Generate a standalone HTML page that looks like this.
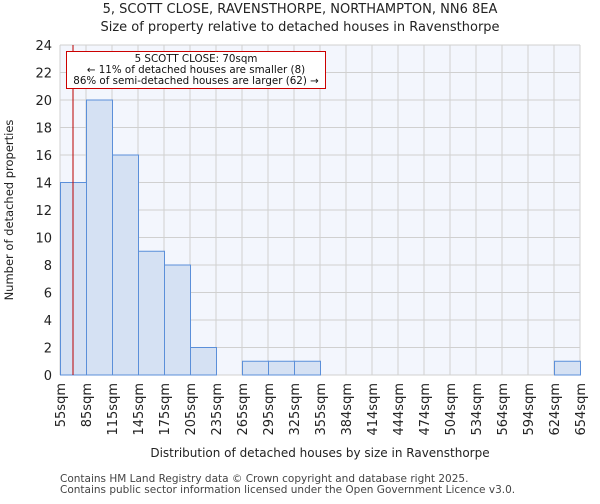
<!DOCTYPE html>
<html><head><meta charset="utf-8"><style>
body{margin:0;background:#fff;font-family:"DejaVu Sans","Liberation Sans",sans-serif;}
</style></head><body>
<svg width="600" height="500" xmlns="http://www.w3.org/2000/svg" font-family="DejaVu Sans, Liberation Sans, sans-serif">
<text x="300" y="13" text-anchor="middle" font-size="13" fill="#222">5, SCOTT CLOSE, RAVENSTHORPE, NORTHAMPTON, NN6 8EA</text>
<text x="300" y="31" text-anchor="middle" font-size="13" fill="#222">Size of property relative to detached houses in Ravensthorpe</text>
<rect x="60" y="45" width="520" height="330" fill="#f3f6fd"/>
<g id="grid"></g><g id="bars"></g><g id="axes"></g>
<line x1="73" y1="45" x2="73" y2="375" stroke="#b00" stroke-width="1"/>
<rect x="66.5" y="51.5" width="259" height="37" fill="#fff" stroke="#c00" stroke-width="1"/>
<text x="196" y="62" text-anchor="middle" font-size="10.3" fill="#111">5 SCOTT CLOSE: 70sqm</text>
<text x="196" y="73" text-anchor="middle" font-size="10.3" fill="#111">← 11% of detached houses are smaller (8)</text>
<text x="196" y="84" text-anchor="middle" font-size="10.3" fill="#111">86% of semi-detached houses are larger (62) →</text>
<text x="13" y="210" transform="rotate(-90 13 210)" text-anchor="middle" font-size="11.5" fill="#222">Number of detached properties</text>
<text x="320" y="457" text-anchor="middle" font-size="12" fill="#222">Distribution of detached houses by size in Ravensthorpe</text>
<text x="60" y="482" font-size="10.5" fill="#444">Contains HM Land Registry data © Crown copyright and database right 2025.</text>
<text x="60" y="493" font-size="10.5" fill="#444">Contains public sector information licensed under the Open Government Licence v3.0.</text>
</svg>
<script>
const tickLabels=["55sqm","85sqm","115sqm","145sqm","175sqm","205sqm","235sqm","265sqm","295sqm","325sqm","355sqm","384sqm","414sqm","444sqm","474sqm","504sqm","534sqm","564sqm","594sqm","624sqm","654sqm"];
const counts=[14,20,16,9,8,2,0,1,1,1,0,0,0,0,0,0,0,0,0,1];
const yTicks=[0,2,4,6,8,10,12,14,16,18,20,22,24];
const NS="http://www.w3.org/2000/svg";
const X0=60,X1=580,Y0=375,Y1=45,YMAX=24;
const bw=(X1-X0)/counts.length;
const xs=i=>X0+i*bw;
const ys=v=>Y0-(v/YMAX)*(Y0-Y1);
function mk(t,a,p){const e=document.createElementNS(NS,t);for(const k in a)e.setAttribute(k,a[k]);p.appendChild(e);return e;}
const grid=document.getElementById('grid'),bars=document.getElementById('bars'),axes=document.getElementById('axes');
yTicks.forEach(v=>{
const l=mk('line',{x1:X0,x2:X1,y1:ys(v),y2:ys(v),stroke:'#d0d0d0','stroke-width':1},grid);


const t=mk('text',{x:X0-8,y:ys(v)+5,'text-anchor':'end','font-size':13,fill:'#222'},axes);
t.textContent=v;


});
tickLabels.forEach((s,i)=>{
const x=xs(i);
const l=mk('line',{x1:x,x2:x,y1:Y1,y2:Y0,stroke:'#d0d0d0','stroke-width':1},grid);


const t=mk('text',{x:0,y:0,'text-anchor':'end','font-size':13,fill:'#222',transform:`translate(${x+5},${Y0+8}) rotate(-90)`},axes);
t.textContent=s;


});
counts.forEach((c,i)=>{
if(c<=0)return;
const r=mk('rect',{x:xs(i)+0.5,y:ys(c),width:bw,height:Y0-ys(c),fill:'#d5e1f3',stroke:'#5b8fd9','stroke-width':1},bars);


});
</script>
</body></html>
